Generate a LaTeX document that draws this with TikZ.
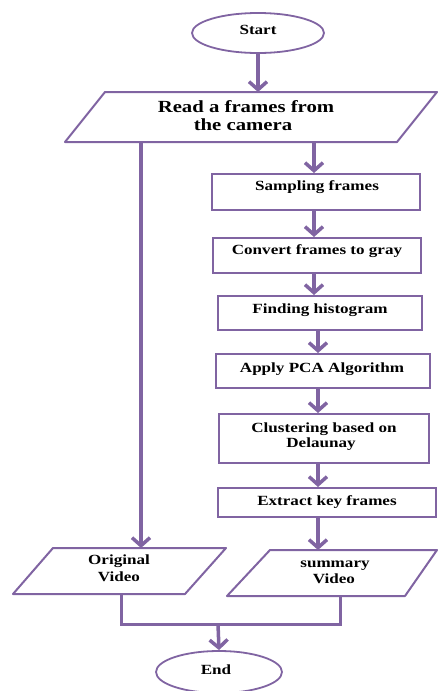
\documentclass[tikz,border=0pt]{standalone}
\usepackage{fontspec}
\setmainfont{Liberation Serif}
\usepackage{graphicx}
\usetikzlibrary{arrows.meta,shapes.geometric}
\definecolor{pur}{HTML}{8064A2}
\newcommand{\stx}[1]{\scalebox{1.22}[1]{#1}}
\begin{document}
\begin{tikzpicture}[x=1pt,y=-1pt,
  shp/.style={draw=pur, line width=2pt, line join=round},
  box/.style={draw=pur, line width=2pt, rectangle, inner sep=0pt},
  oval/.style={draw=pur, line width=1.8pt, ellipse, inner sep=0pt},
  arr/.style={pur, line width=3.5pt, -{Straight Barb[length=8pt,width=18pt]}},
  lnk/.style={pur, line width=3pt},
  lbl/.style={font=\bfseries\fontsize{14}{16}\selectfont, anchor=base, inner sep=0pt},
  big/.style={font=\bfseries\fontsize{17}{18}\selectfont, anchor=base, inner sep=0pt}]
\useasboundingbox (0,0) rectangle (437,691);

% Start
\node[oval, minimum width=132pt, minimum height=40pt] (start) at (258,33) {};
\node[lbl] (tstart) at (258,34) {\stx{Start}};

% Read parallelogram
\draw[shp] (105,92) -- (437,92) -- (397,142) -- (65,142) -- cycle;
\coordinate (rdT) at (258,92);
\coordinate (rdL) at (141,142);
\coordinate (rdR) at (314,142);
\node[big] (rd1) at (246,112) {\stx{Read a frames from}};
\node[big] (rd2) at (243,130) {\stx{the camera}};

% process boxes
\node[box, minimum width=208pt, minimum height=36pt] (s1) at (316,192) {};
\node[lbl] (t1) at (317,190) {\stx{Sampling frames}};
\node[box, minimum width=208pt, minimum height=35pt] (s2) at (317,255.5) {};
\node[lbl] (t2) at (317,254) {\stx{Convert frames to gray}};
\node[box, minimum width=204pt, minimum height=34pt] (s3) at (320,313) {};
\node[lbl] (t3) at (320,313) {\stx{Finding histogram}};
\node[box, minimum width=214pt, minimum height=34pt] (s4) at (323,371) {};
\node[lbl] (t4) at (322,372) {\stx{Apply PCA Algorithm}};
\node[box, minimum width=210pt, minimum height=49pt] (s5) at (324,438.5) {};
\node[lbl] (t5a) at (324,432) {\stx{Clustering based on}};
\node[lbl] (t5b) at (321,447.5) {\stx{Delaunay}};
\node[box, minimum width=218pt, minimum height=29pt] (s6) at (327,502.5) {};
\node[lbl] (t6) at (327,505) {\stx{Extract key frames}};

\coordinate (colA) at (314,0);
\coordinate (colB) at (318,0);

% output parallelograms
\draw[shp] (53,548) -- (226,548) -- (185,594) -- (13,594) -- cycle;
\coordinate (ovT) at (141,548);
\coordinate (ovB) at (121,594);
\node[lbl] (ov1) at (119,564) {\stx{Original}};
\node[lbl] (ov2) at (119,581) {\stx{Video}};

\draw[shp] (270,550) -- (437,550) -- (405,596) -- (227,596) -- cycle;
\coordinate (smT) at (318,550);
\coordinate (smB) at (340,596);
\node[lbl] (sm1) at (335,567) {\stx{summary}};
\node[lbl] (sm2) at (334,583) {\stx{Video}};

% End
\node[oval, minimum width=126pt, minimum height=42pt] (end) at (219,672) {};
\node[lbl] (tend) at (216,674) {\stx{End}};

% connectors
\draw[arr] (start.south) -- (rdT);
\draw[arr] (rdL) -- (ovT);
\draw[arr] (rdR) -- (s1.north -| colA);
\draw[arr] (s1.south -| colA) -- (s2.north -| colA);
\draw[arr] (s2.south -| colA) -- (s3.north -| colA);
\draw[arr] (s3.south -| colB) -- (s4.north -| colB);
\draw[arr] (s4.south -| colB) -- (s5.north -| colB);
\draw[arr] (s5.south -| colB) -- (s6.north -| colB);
\draw[arr] (s6.south -| colB) -- (smT);
\coordinate (jn) at (218,624);
\draw[lnk] (ovB) -- (ovB |- jn) -- (smB |- jn) -- (smB);
\draw[arr] (jn) -- (end.north);
\end{tikzpicture}
\end{document}
